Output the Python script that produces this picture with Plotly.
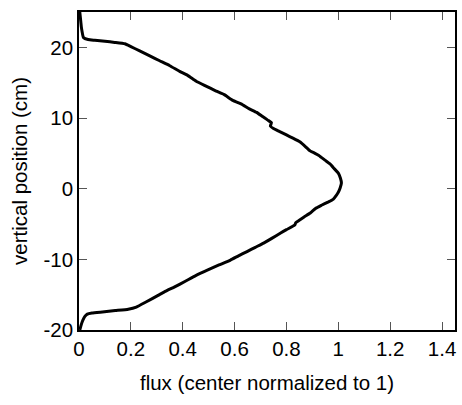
import plotly.graph_objects as go

# Measured beam profile: flux (normalized to 1 at center) vs vertical position
flux = [0.003, 0.005, 0.007, 0.009, 0.012, 0.017, 0.035, 0.061, 0.10, 0.138,
        0.177, 0.20, 0.234, 0.273, 0.311, 0.35, 0.388, 0.42, 0.452, 0.49,
        0.529, 0.56, 0.593, 0.625, 0.657, 0.685, 0.708, 0.728, 0.742, 0.738,
        0.75, 0.772, 0.80, 0.825, 0.853, 0.872, 0.891, 0.91, 0.925, 0.95,
        0.968, 0.985, 1.0, 1.008, 1.012, 1.007, 1.0, 0.993, 0.98, 0.96,
        0.935, 0.912, 0.892, 0.868, 0.848, 0.836, 0.832, 0.80, 0.776, 0.745,
        0.712, 0.68, 0.648, 0.615, 0.584, 0.54, 0.497, 0.45, 0.41, 0.369,
        0.335, 0.305, 0.26, 0.221, 0.19, 0.14, 0.09, 0.05, 0.032, 0.022,
        0.015, 0.01, 0.006, 0.003]
position = [25.0, 24.3, 23.6, 22.9, 22.2, 21.4, 21.1, 21.0, 20.85, 20.7,
            20.5, 20.1, 19.5, 18.8, 18.1, 17.4, 16.6, 16.0, 15.2, 14.5,
            13.8, 13.3, 12.5, 12.0, 11.3, 10.8, 10.2, 9.7, 9.35, 8.85,
            8.5, 8.1, 7.6, 7.15, 6.6, 6.0, 5.35, 5.0, 4.7, 4.0,
            3.5, 2.8, 2.2, 1.5, 0.8, 0.1, -0.5, -0.9, -1.5, -1.9,
            -2.35, -2.8, -3.45, -4.0, -4.5, -4.8, -5.15, -5.8, -6.3, -7.0,
            -7.7, -8.3, -8.9, -9.5, -10.1, -10.8, -11.5, -12.3, -13.1, -13.9,
            -14.5, -15.1, -16.0, -16.75, -17.05, -17.25, -17.45, -17.6, -17.75, -18.1,
            -18.6, -19.1, -19.6, -20.0]

x_ticks = [0, 0.2, 0.4, 0.6, 0.8, 1, 1.2, 1.4]
x_tick_text = ["0", "0.2", "0.4", "0.6", "0.8", "1", "1.2", "1.4"]
y_ticks = [-20, -10, 0, 10, 20]
y_tick_text = ["-20", "-10", "0", "10", "20"]

FONT = "Arial, Liberation Sans, sans-serif"
FS = 20.5

fig = go.Figure(
    go.Scatter(
        x=flux, y=position, mode="lines",
        line=dict(color="black", width=3, shape="spline", smoothing=0.4),
        hoverinfo="skip",
    )
)

axis_common = dict(
    showgrid=False, zeroline=False,
    showline=True, linecolor="black", linewidth=1.5,
    mirror="ticks", ticks="inside", ticklen=8, tickwidth=1, tickcolor="#555",
    tickfont=dict(family=FONT, size=FS, color="black"),
)

fig.update_layout(
    width=462, height=405,
    margin=dict(l=79, r=5, t=12, b=75),
    paper_bgcolor="white", plot_bgcolor="white",
    showlegend=False,
    xaxis=dict(
        range=[0, 1.45], tickvals=x_ticks, ticktext=x_tick_text,
        title=dict(text="flux (center normalized to 1)",
                   font=dict(family=FONT, size=FS, color="black"), standoff=16),
        **axis_common,
    ),
    yaxis=dict(
        range=[-20, 25], tickvals=y_ticks, ticktext=y_tick_text,
        title=dict(text="vertical position (cm)",
                   font=dict(family=FONT, size=FS, color="black"), standoff=10),
        **axis_common,
    ),
)

fig.write_html("out.html")
